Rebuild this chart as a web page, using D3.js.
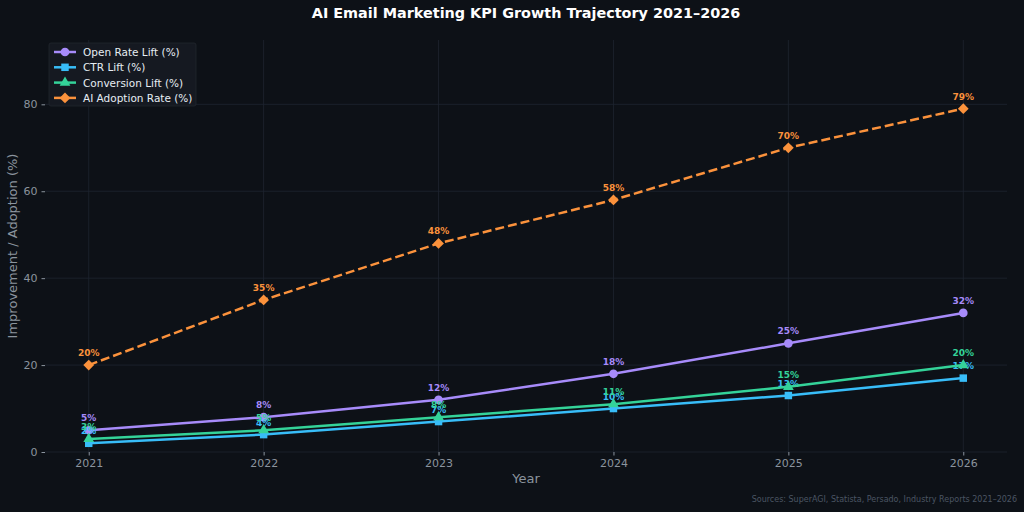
<!DOCTYPE html>
<html>
<head>
<meta charset="utf-8">
<title>AI Email Marketing KPI Growth</title>
<script src="https://d3js.org/d3.v7.min.js"></script>
<style>
  body { margin: 0; background: #0d1117; }
  text { font-family: "DejaVu Sans", sans-serif; }
</style>
</head>
<body>
<div id="chart"></div>
<script>
// data
var years = [2021, 2022, 2023, 2024, 2025, 2026];
var openRate = [5, 8, 12, 18, 25, 32];
var ctr = [2, 4, 7, 10, 13, 17];
var conversion = [3, 5, 8, 11, 15, 20];
var adoption = [20, 35, 48, 58, 70, 79];
var yTicks = [0, 20, 40, 60, 80];

var series = [
  { name: "Open Rate Lift (%)", values: openRate, color: "#a78bfa", marker: "circle", dash: null },
  { name: "CTR Lift (%)", values: ctr, color: "#38bdf8", marker: "square", dash: null },
  { name: "Conversion Lift (%)", values: conversion, color: "#34d399", marker: "triangle", dash: null },
  { name: "AI Adoption Rate (%)", values: adoption, color: "#fb923c", marker: "diamond", dash: "9,4" }
];

var W = 1024, H = 512;
var margin = { top: 40, right: 17, bottom: 60, left: 45 };
var width = W - margin.left - margin.right,
    height = H - margin.top - margin.bottom;

var svg = d3.select("#chart").append("svg")
  .attr("width", W).attr("height", H)
  .style("background", "#0d1117");

var g = svg.append("g")
  .attr("transform", "translate(" + margin.left + "," + margin.top + ")");

var x = d3.scaleLinear().domain([2020.75, 2026.25]).range([0, width]);
var y = d3.scaleLinear().domain([0, 94.8]).range([height, 0]);

// grid
g.append("g").selectAll("line").data(years).enter().append("line")
  .attr("x1", function (d) { return x(d); }).attr("x2", function (d) { return x(d); })
  .attr("y1", 0).attr("y2", height)
  .attr("stroke", "#1e2530").attr("stroke-width", 0.8);
g.append("g").selectAll("line").data(yTicks).enter().append("line")
  .attr("x1", 0).attr("x2", width)
  .attr("y1", function (d) { return y(d); }).attr("y2", function (d) { return y(d); })
  .attr("stroke", "#1e2530").attr("stroke-width", 0.8);

// axes
var xAxis = g.append("g")
  .attr("transform", "translate(0," + height + ")")
  .call(d3.axisBottom(x).tickValues(years).tickFormat(d3.format("d")).tickSize(3.5).tickPadding(4));
var yAxis = g.append("g")
  .call(d3.axisLeft(y).tickValues(yTicks).tickSize(3.5).tickPadding(4));
[xAxis, yAxis].forEach(function (a) {
  a.select(".domain").remove();
  a.selectAll(".tick line").attr("stroke", "#8b949e");
  a.selectAll(".tick text").attr("fill", "#8b949e").style("font-size", "11px")
    .style("font-family", "DejaVu Sans, sans-serif");
});

// axis titles
svg.append("text")
  .attr("x", margin.left + width / 2).attr("y", 483)
  .attr("text-anchor", "middle").attr("fill", "#8b949e")
  .style("font-size", "13px").text("Year");
svg.append("text")
  .attr("transform", "translate(17," + (margin.top + height / 2) + ") rotate(-90)")
  .attr("text-anchor", "middle").attr("fill", "#8b949e")
  .style("font-size", "13px").text("Improvement / Adoption (%)");

// title
svg.append("text")
  .attr("x", margin.left + width / 2).attr("y", 18)
  .attr("text-anchor", "middle").attr("fill", "#ffffff")
  .style("font-size", "14.4px").style("font-weight", "bold")
  .text("AI Email Marketing KPI Growth Trajectory 2021\u20132026");

// marker helper (diamond = square turned 45deg, like matplotlib "D")
var symbolFor = {
  circle: d3.symbol().type(d3.symbolCircle).size(60),
  square: d3.symbol().type(d3.symbolSquare).size(56),
  triangle: d3.symbol().type(d3.symbolTriangle).size(50),
  diamond: d3.symbol().type(d3.symbolSquare).size(58)
};
function markerTransform(marker, px, py) {
  return "translate(" + px + "," + py + ")" + (marker === "diamond" ? " rotate(45)" : "");
}

var line = d3.line()
  .x(function (d, i) { return x(years[i]); })
  .y(function (d) { return y(d); });

series.forEach(function (s) {
  g.append("path").datum(s.values)
    .attr("fill", "none").attr("stroke", s.color)
    .attr("stroke-width", 2.5)
    .attr("stroke-dasharray", s.dash)
    .attr("d", line);
  g.append("g").selectAll("path").data(s.values).enter().append("path")
    .attr("transform", function (d, i) { return markerTransform(s.marker, x(years[i]), y(d)); })
    .attr("d", symbolFor[s.marker])
    .attr("fill", s.color);
  g.append("g").selectAll("text").data(s.values).enter().append("text")
    .attr("x", function (d, i) { return x(years[i]); })
    .attr("y", function (d) { return y(d) - 9; })
    .attr("text-anchor", "middle").attr("fill", s.color)
    .style("font-size", "9px").style("font-weight", "bold")
    .text(function (d) { return d + "%"; });
});

// legend
var lg = svg.append("g").attr("transform", "translate(49,43)");
lg.append("rect").attr("width", 147).attr("height", 63).attr("rx", 2)
  .attr("fill", "#161b22").attr("fill-opacity", 0.9)
  .attr("stroke", "#21262d").attr("stroke-width", 0.8);
series.forEach(function (s, i) {
  var ly = 9 + i * 15.3;
  lg.append("line").attr("x1", 5).attr("x2", 27).attr("y1", ly).attr("y2", ly)
    .attr("stroke", s.color).attr("stroke-width", 2.5);
  lg.append("path").attr("transform", markerTransform(s.marker, 16, ly))
    .attr("d", symbolFor[s.marker]).attr("fill", s.color);
  lg.append("text").attr("x", 34).attr("y", ly + 4)
    .attr("fill", "#e6edf3").style("font-size", "10.5px").text(s.name);
});

// source note
svg.append("text")
  .attr("x", 1017).attr("y", 502).attr("text-anchor", "end")
  .attr("fill", "#4b5563").style("font-size", "8px")
  .text("Sources: SuperAGI, Statista, Persado, Industry Reports 2021\u20132026");
</script>
</body>
</html>
